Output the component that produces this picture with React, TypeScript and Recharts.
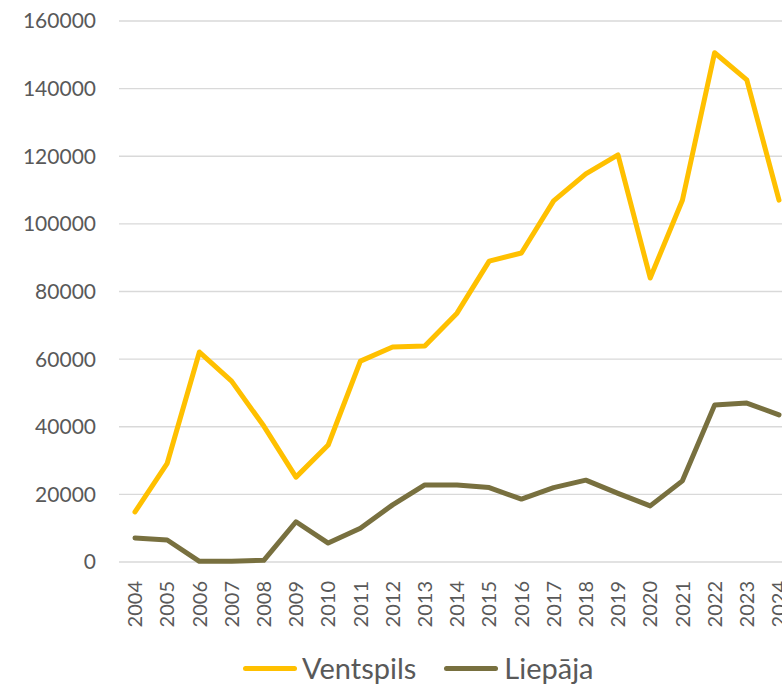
import React from 'react';
import { LineChart, Line, XAxis, YAxis, CartesianGrid, Legend } from 'recharts';

const years = ['2004','2005','2006','2007','2008','2009','2010','2011','2012','2013','2014','2015','2016','2017','2018','2019','2020','2021','2022','2023','2024'];
const ventspils = [14800, 29200, 62100, 53500, 40200, 25100, 34600, 59400, 63600, 63900, 73600, 89000, 91400, 106800, 114800, 120400, 84000, 107000, 150600, 142600, 107000];
const liepaja = [7100, 6500, 200, 200, 500, 11900, 5600, 10000, 16900, 22800, 22800, 22000, 18600, 22000, 24200, 20300, 16600, 24000, 46400, 47000, 43500];
const yTicks = [0, 20000, 40000, 60000, 80000, 100000, 120000, 140000, 160000];

const data = years.map((y, i) => ({ year: y, Ventspils: ventspils[i], Liepaja: liepaja[i] }));

const FONT = 'Lato, "Open Sans", sans-serif';
const TEXT = '#595959';
const YELLOW = '#FFC000';
const OLIVE = '#78703F';

const XTick = (props: any) => {
  const { x, y, payload } = props;
  return (
    <g transform={`translate(${x},${y})`}>
      <text transform="rotate(-90)" x={-17} y={0} dy="0.36em" textAnchor="end" fill={TEXT} fontSize={20} fontFamily={FONT}>
        {payload.value}
      </text>
    </g>
  );
};

const LegendContent = () => (
  <div style={{ display: 'flex', alignItems: 'center', paddingLeft: 243, height: 34, lineHeight: '34px', fontFamily: FONT, fontSize: 29, color: TEXT, whiteSpace: 'nowrap' }}>
    <div style={{ width: 54, height: 5, background: YELLOW, borderRadius: 3, marginRight: 5 }} />
    <span>Ventspils</span>
    <div style={{ width: 54, height: 5, background: OLIVE, borderRadius: 3, marginLeft: 28, marginRight: 6 }} />
    <span>Liepāja</span>
  </div>
);

export default function App() {
  return (
    <div style={{ position: 'absolute', left: 0, top: 0, width: 782, height: 685, overflow: 'hidden' }}>
      <LineChart width={808} height={685} data={data} margin={{ top: 21, right: 13, left: 0, bottom: 0 }}>
        <CartesianGrid vertical={false} stroke="#d9d9d9" strokeWidth={1.4} />
        <XAxis dataKey="year" height={89} axisLine={false} tickLine={false} tickSize={0} interval={0} padding={{ left: 16, right: 16 }} tick={<XTick />} />
        <YAxis width={119} domain={[0, 160000]} ticks={yTicks} axisLine={false} tickLine={false} tickSize={0} tickMargin={23} tick={{ fill: TEXT, fontSize: 21, fontFamily: FONT }} />
        <Legend verticalAlign="bottom" height={34} content={<LegendContent />} wrapperStyle={{ left: 0, width: 782 }} />
        <Line type="linear" dataKey="Ventspils" stroke={YELLOW} strokeWidth={5} dot={false} strokeLinejoin="round" strokeLinecap="round" isAnimationActive={false} />
        <Line type="linear" dataKey="Liepaja" stroke={OLIVE} strokeWidth={5} dot={false} strokeLinejoin="round" strokeLinecap="round" isAnimationActive={false} />
      </LineChart>
    </div>
  );
}
